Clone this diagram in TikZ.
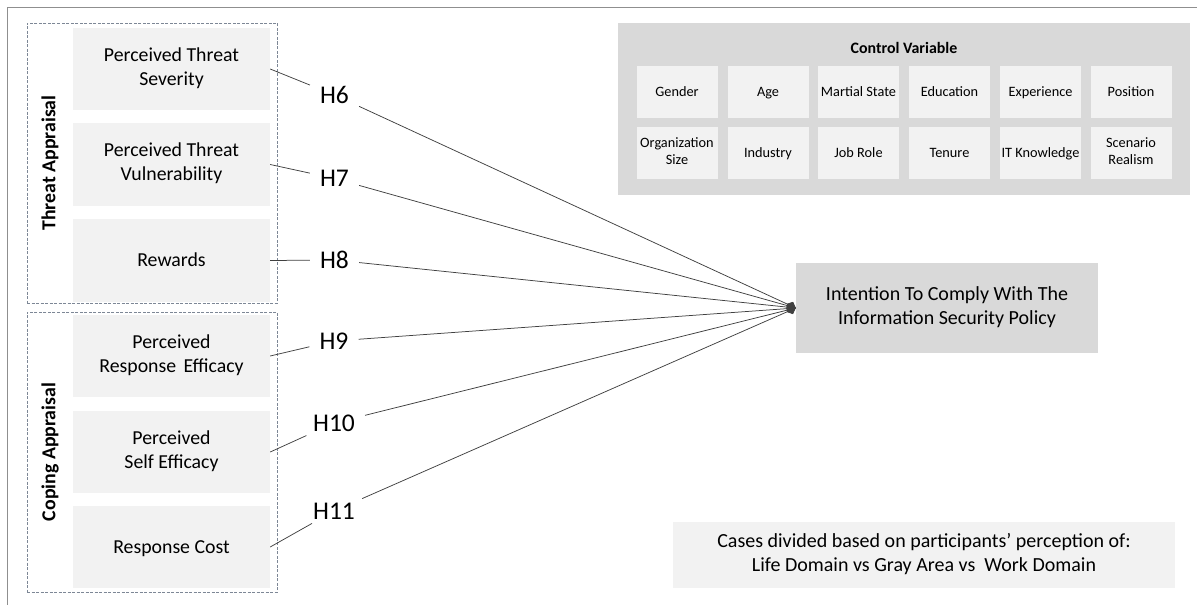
\documentclass[tikz,border=0pt]{standalone}
\usepackage{fontspec}
\setmainfont{Carlito}
\usetikzlibrary{arrows.meta}
\definecolor{boxlight}{HTML}{F2F2F2}
\definecolor{boxmid}{HTML}{D9D9D9}
\definecolor{dashcol}{RGB}{125,135,150}
\definecolor{framecol}{HTML}{8F8F8F}
\definecolor{linkcol}{HTML}{404040}
\begin{document}
\begin{tikzpicture}[x=1pt,y=-1pt,
  % even top/bottom struts so the cap line sits at the node centre
  struts/.style={execute at begin node={\rule{0pt}{0.9em}},
                 execute at end node={\rule[-0.26em]{0pt}{0.26em}}},
  construct/.style={fill=boxlight, draw=none, minimum width=197pt, minimum height=82.5pt,
    align=center, font=\fontsize{19.8}{24}\selectfont, inner sep=0pt, struts},
  group/.style={draw=dashcol, dash pattern=on 3pt off 1.5pt, line width=0.9pt,
    minimum width=250pt, minimum height=280pt, inner sep=0pt},
  grouplabel/.style={rotate=90, font=\bfseries\fontsize{19.8}{24}\selectfont},
  hyp/.style={font=\fontsize{25.5}{30}\selectfont, inner xsep=10pt, inner ysep=4pt},
  cell/.style={fill=boxlight, minimum width=81pt, minimum height=52pt, align=center,
    font=\fontsize{14.3}{17.4}\selectfont, inner sep=0pt, struts},
  panel/.style={fill=boxmid, inner sep=0pt},
  link/.style={draw=linkcol, line width=0.75pt},
  tiplink/.style={link, -{Diamond[length=10pt,width=9pt]}},
]
\useasboundingbox (0,0) rectangle (1197,605);

% outer frame (top and left edges)
\draw[framecol, line width=1.2pt] (1197,7.5) -- (7.5,7.5) -- (7.5,605);

% appraisal groups
\node[group] (threat) at (152,163) {};
\node[group] (coping) at (152,452) {};
\node[grouplabel] (threatlbl) at (50,163) {Threat Appraisal};
\node[grouplabel] (copinglbl) at (50,452) {Coping Appraisal};

% constructs
\node[construct] (sev) at (171.5,69) {Perceived Threat\\Severity};
\node[construct] (vul) at (171.5,164.5) {Perceived Threat\\Vulnerability};
\node[construct] (rew) at (171.5,260.5) {Rewards};
\node[construct] (rse) at (171.5,356) {Perceived\\Response\hspace{0.37em}Efficacy};
\node[construct] (sef) at (171.5,452) {Perceived\\Self Efficacy};
\node[construct] (rc)  at (171.5,547) {Response Cost};

% hypotheses
\node[hyp] (h6)  at (334.5,95)  {H6};
\node[hyp] (h7)  at (334.5,178.5) {H7};
\node[hyp] (h8)  at (334.5,260) {H8};
\node[hyp] (h9)  at (334,341) {H9};
\node[hyp] (h10) at (334,423) {H10};
\node[hyp] (h11) at (334,511) {H11};

% dependent variable
\node[panel, minimum width=302pt, minimum height=90pt, align=center, struts,
  font=\fontsize{20}{24.4}\selectfont] (itc) at (947,308)
  {Intention To Comply With The\\Information Security Policy};

% control variables
\node[panel, minimum width=572pt, minimum height=172pt] (ctrl) at (904,109) {};
\node[font=\bfseries\fontsize{15.9}{19}\selectfont] (ctrltitle) at (904,48) {Control Variable};
\node[cell] (gender) at (677,92)    {Gender};
\node[cell] (age)    at (768,92)    {Age};
\node[cell] (marital) at (858.5,92) {Martial State};
\node[cell] (edu)    at (949.5,92)  {Education};
\node[cell] (exp)    at (1040.5,92) {Experience};
\node[cell] (pos)    at (1131,92)   {Position};
\node[cell] (orgsize) at (677,153)  {Organization\\Size};
\node[cell] (ind)    at (768,153)   {Industry};
\node[cell] (job)    at (858.5,153) {Job Role};
\node[cell] (ten)    at (949.5,153) {Tenure};
\node[cell] (itk)    at (1040.5,153) {IT Knowledge};
\node[cell] (real)   at (1131,153)  {Scenario\\Realism};

% case split note
\node[fill=boxlight, minimum width=502pt, minimum height=66pt, inner sep=0pt, align=center,
  struts, font=\fontsize{20}{24.4}\selectfont] (cases) at (924,555)
  {Cases divided based on participants’ perception of:\\Life Domain vs Gray Area vs\ \ Work Domain};

% paths
\foreach \src/\hy in {sev/h6, vul/h7, rew/h8, rse/h9, sef/h10, rc/h11}{
  \draw[link] (\src.east) -- (\hy);
  \draw[tiplink] (\hy) -- (itc.west);
}
\end{tikzpicture}
\end{document}
